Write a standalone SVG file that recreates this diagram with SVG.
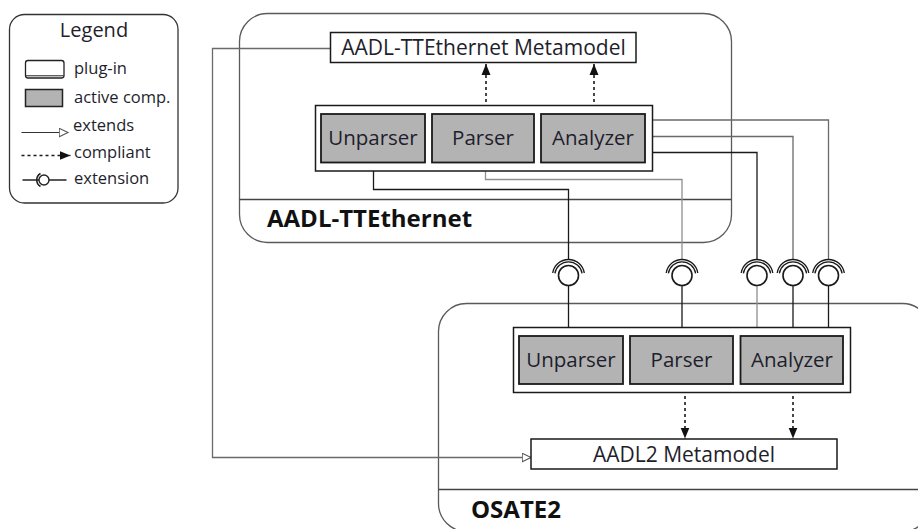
<svg xmlns="http://www.w3.org/2000/svg" width="918" height="529" viewBox="0 0 918 529">
<defs>
<style>
text{font-family:"Open Sans","Liberation Sans",sans-serif;fill:#1e1e2c}
.lbl{font-size:20.5px;text-anchor:middle}
.mm{font-size:21px;text-anchor:middle}
.big{font-size:24px;font-weight:bold;fill:#111}
.leg{font-size:16.5px}
.cont{fill:#fff;stroke:#5a5a5a;stroke-width:1.3}
.div{stroke:#444;stroke-width:1.3}
.box{fill:#fff;stroke:#1a1a1a;stroke-width:1.5}
.comp{fill:#b3b3b3;stroke:#1a1a1a;stroke-width:1.8}
.ln{fill:none;stroke:#1a1a1a;stroke-width:1.3}
.lm{fill:none;stroke:#6a6a6a;stroke-width:1.3}
.lg{fill:none;stroke:#8f8f8f;stroke-width:1.3}
.dot{fill:none;stroke:#1a1a1a;stroke-width:1.6;stroke-dasharray:3 3}
.ball{fill:#fff;stroke:#1a1a1a;stroke-width:1.6}
.arc{fill:none;stroke:#1a1a1a;stroke-width:1.3}
</style>
<marker id="filled" markerWidth="12" markerHeight="10" refX="11" refY="5" orient="auto" markerUnits="userSpaceOnUse"><path d="M0,0.5 L11,5 L0,9.5 z" fill="#111"/></marker>
<marker id="hollow" markerWidth="11" markerHeight="10" refX="9.5" refY="5" orient="auto" markerUnits="userSpaceOnUse"><path d="M0.7,0.8 L9.5,5 L0.7,9.2 z" fill="#fff" stroke="#555" stroke-width="1.1"/></marker>
<g id="sock">
<path class="arc" d="M-15.8,-2.5 A16,16 0 0 1 15.8,-2.5"/>
<path class="arc" d="M-13.6,-2.2 A13.8,13.8 0 0 1 13.6,-2.2"/>
<circle class="ball" cx="0" cy="0" r="10"/>
</g>
</defs>
<rect width="918" height="529" fill="#fff"/>

<g id="legend">
<rect x="9.5" y="14.5" width="168.5" height="188.5" rx="15" fill="#fff" stroke="#333" stroke-width="1.3"/>
<text x="94" y="37" style="font-size:20px;text-anchor:middle">Legend</text>
<rect x="25.5" y="60.5" width="38.5" height="17.5" rx="2.5" fill="#fff" stroke="#222" stroke-width="1.3"/>
<line x1="26" y1="75.8" x2="63.5" y2="75.8" stroke="#222" stroke-width="1"/>
<text class="leg" x="74" y="74">plug-in</text>
<rect x="25.5" y="89.5" width="37" height="17" fill="#b3b3b3" stroke="#222" stroke-width="1.5"/>
<text class="leg" x="74" y="103">active comp.</text>
<line x1="21.5" y1="132.5" x2="68" y2="132.5" stroke="#333" stroke-width="1.2" marker-end="url(#hollow)"/>
<text class="leg" x="73" y="131">extends</text>
<line x1="21.5" y1="155.5" x2="70.5" y2="155.5" class="dot" stroke-width="1.3" marker-end="url(#filled)"/>
<text class="leg" x="74" y="158">compliant</text>
<line x1="22.5" y1="180" x2="66.5" y2="180" stroke="#222" stroke-width="1.3"/>
<path d="M40.5,173.5 A7.5,7.5 0 0 0 40.5,186.5" fill="none" stroke="#222" stroke-width="1.6"/>
<circle cx="44" cy="180" r="5" fill="#fff" stroke="#222" stroke-width="1.4"/>
<text class="leg" x="74" y="184">extension</text>
</g>

<g id="aadl-ttethernet">
<rect class="cont" x="239.5" y="13.5" width="492" height="229" rx="28"/>
<line class="div" x1="239.5" y1="199.5" x2="731.5" y2="199.5"/>
<text class="big" x="267" y="227">AADL-TTEthernet</text>
</g>

<g id="osate2">
<rect class="cont" x="438.5" y="303.5" width="492" height="228" rx="28"/>
<line class="div" x1="438.5" y1="489.5" x2="930" y2="489.5"/>
<text class="big" x="471" y="518">OSATE2</text>
</g>

<g id="connectors">
<path class="lm" d="M330,48.5 H212.5 V457.5 H531" marker-end="url(#hollow)"/>
<path class="ln" d="M373.5,163 V189.5 H568.5 V259.5"/>
<path class="lg" d="M485.5,163 V179.5 H682 V259.5"/>
<path class="lm" d="M645,120 H828.5 V259.5"/>
<path class="lm" d="M645,136.5 H793 V259.5"/>
<path class="ln" d="M645,152.5 H757 V259.5"/>
<path class="ln" d="M568.5,285.5 V336"/>
<path class="ln" d="M682,285.5 V336"/>
<path class="lg" d="M757,285.5 V336"/>
<path class="ln" d="M793,285.5 V336"/>
<path class="ln" d="M828.5,285.5 V336"/>
<line class="dot" x1="486" y1="114" x2="486" y2="64" marker-end="url(#filled)"/>
<line class="dot" x1="594" y1="114" x2="594" y2="64" marker-end="url(#filled)"/>
<line class="dot" x1="685" y1="384" x2="685" y2="438.5" marker-end="url(#filled)"/>
<line class="dot" x1="793" y1="384" x2="793" y2="438.5" marker-end="url(#filled)"/>
<use href="#sock" x="568.5" y="275.5"/>
<use href="#sock" x="682" y="275.5"/>
<use href="#sock" x="757" y="275.5"/>
<use href="#sock" x="793" y="275.5"/>
<use href="#sock" x="828.5" y="275.5"/>
</g>

<g id="tte-metamodel">
<rect class="box" x="330.5" y="32.5" width="305.5" height="30"/>
<text class="mm" x="483.5" y="55">AADL-TTEthernet Metamodel</text>
</g>

<g id="tte-plugin">
<rect class="box" x="315.5" y="105.5" width="337" height="65.5"/>
</g>
<g id="tte-unparser">
<rect class="comp" x="321" y="114" width="104" height="48.5"/>
<text class="lbl" x="373" y="145">Unparser</text>
</g>
<g id="tte-parser">
<rect class="comp" x="432" y="114" width="102" height="48.5"/>
<text class="lbl" x="483" y="145">Parser</text>
</g>
<g id="tte-analyzer">
<rect class="comp" x="541" y="114" width="104" height="48.5"/>
<text class="lbl" x="593" y="145">Analyzer</text>
</g>

<g id="osate-plugin">
<rect class="box" x="513.5" y="327.5" width="337" height="65"/>
</g>
<g id="osate-unparser">
<rect class="comp" x="519" y="336" width="104" height="48"/>
<text class="lbl" x="571" y="367">Unparser</text>
</g>
<g id="osate-parser">
<rect class="comp" x="630" y="336" width="103" height="48"/>
<text class="lbl" x="681.5" y="367">Parser</text>
</g>
<g id="osate-analyzer">
<rect class="comp" x="740.5" y="336" width="102.5" height="48"/>
<text class="lbl" x="792" y="367">Analyzer</text>
</g>

<g id="aadl2-metamodel">
<rect class="box" x="531" y="439" width="306" height="30"/>
<text class="mm" x="684" y="462">AADL2 Metamodel</text>
</g>
</svg>
